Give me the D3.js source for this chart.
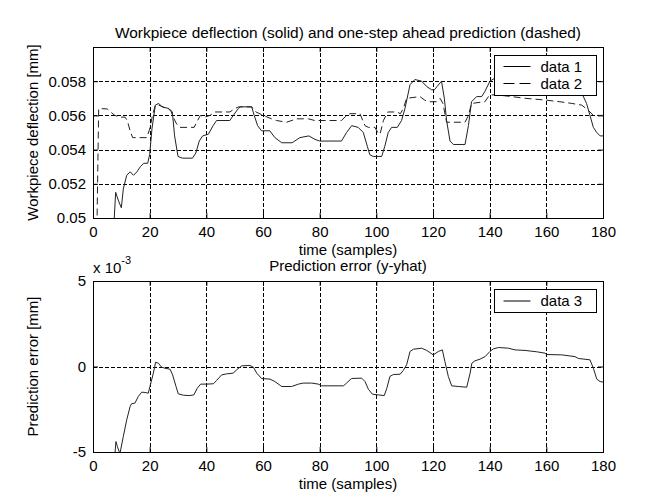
<!DOCTYPE html>
<html>
<head>
<meta charset="utf-8">
<script src="https://cdn.jsdelivr.net/npm/d3@7"></script>
<style>
  body { margin: 0; background: #fff; }
  svg { display: block; font-family: "Liberation Sans", Arial, sans-serif; }
</style>
</head>
<body>
<div id="chart"></div>
<script>
// Sample index (x) and values.
const actualT = [7, 8, 9, 10, 10.7, 11.9, 13.1, 14.3, 15.5, 16.7, 17.9, 19.3, 20, 20.8, 22, 23.2, 24.4, 26.8, 28, 28.8,
  30, 31.5, 35.1, 36.3, 37.5, 38.7, 40.7, 42.4, 43.6, 48.3, 49.5, 51.3, 52, 56, 56.9, 58.1, 59.5, 62.4, 64.2, 66.6,
  70.3, 73, 76.2, 78.3, 80, 87.7, 89.5, 91.3, 93.6, 95.4, 96.8, 97.7, 98.9, 101.9, 103, 104.2, 105.4, 107.4, 108.9, 110.1,
  111.9, 113.6, 116, 117.7, 119.5, 120.5, 121.5, 123, 124, 124.8, 126, 127.2, 131.3, 132.5, 133.6, 135.4, 137.2, 138.3, 140.1, 142,
  150, 160, 170, 172.5, 174.2, 175.4, 176.6, 177.8, 179, 180];
const actualY = [0.0485, 0.0515, 0.0510, 0.0506, 0.0517, 0.0525, 0.0527, 0.0525, 0.0527, 0.0530, 0.0532, 0.0532, 0.0537, 0.0552, 0.0566, 0.0567, 0.0565, 0.0564, 0.0562, 0.0548,
  0.0536, 0.0535, 0.0535, 0.0538, 0.0545, 0.0548, 0.0549, 0.0554, 0.0557, 0.0557, 0.0560, 0.0564, 0.0565, 0.0565, 0.0560, 0.0554, 0.0551, 0.0551, 0.0547, 0.0544,
  0.0544, 0.0547, 0.0548, 0.0546, 0.0545, 0.0545, 0.0550, 0.0554, 0.0553, 0.0550, 0.0542, 0.0537, 0.0536, 0.0536, 0.0542, 0.0550, 0.0553, 0.0553, 0.0557, 0.0564,
  0.0578, 0.0581, 0.0580, 0.0577, 0.0575, 0.0575, 0.0577, 0.0580, 0.0570, 0.0557, 0.0545, 0.0543, 0.0543, 0.0554, 0.0568, 0.0571, 0.0571, 0.0574, 0.0580, 0.0582,
  0.0580, 0.0577, 0.0575, 0.0573, 0.0567, 0.0560, 0.0553, 0.0550, 0.0548, 0.0548];

const predT = [1, 2, 5, 6.2, 7.7, 9.5, 11.3, 12.1, 13.1, 14, 19, 20, 21, 22, 23.2, 26, 27.4, 28.3, 29.5, 30.7,
  35.7, 36.9, 37.9, 39.5, 41.3, 43, 48.3, 50, 51.5, 56, 57.5, 60.1, 63, 64.8, 68.3, 71.9, 76, 78.3, 82.5, 87.7,
  89.5, 90.7, 94.2, 96, 97.2, 99.5, 100.5, 101.3, 102.5, 104, 107.2, 108.5, 109.5, 110.7, 115.4, 117, 118.3, 121.2, 122.5, 123.5,
  124.8, 131.3, 132.5, 133.6, 138.3, 140, 142.5, 147.8, 152.5, 159.5, 164.8, 169, 172.5, 174.8, 176.6, 180];
const predY = [0.045, 0.0564, 0.05638, 0.0562, 0.0560, 0.0559, 0.0559, 0.0557, 0.0551, 0.0547, 0.0547, 0.0552, 0.0560, 0.0566, 0.0566, 0.0564, 0.0563, 0.0559, 0.0555, 0.0553,
  0.0553, 0.0557, 0.0560, 0.0559, 0.0560, 0.0562, 0.0562, 0.0564, 0.0565, 0.0565, 0.0562, 0.0560, 0.0558, 0.0557, 0.0556, 0.0558, 0.0558, 0.0557, 0.0557, 0.0557,
  0.0560, 0.0561, 0.0561, 0.0554, 0.0553, 0.0553, 0.0550, 0.0549, 0.0557, 0.0562, 0.0562, 0.0561, 0.0564, 0.0570, 0.0571, 0.0569, 0.0568, 0.0568, 0.0570, 0.0567,
  0.0556, 0.0556, 0.0560, 0.0567, 0.0568, 0.0572, 0.0572, 0.0571, 0.0570, 0.0569, 0.0568, 0.0567, 0.0566, 0.0563, 0.0560, 0.0560];

// Prediction error, in units of 1e-3 mm.
const errT = [7.5, 8.1, 8.6, 9.5, 10.7, 11.9, 13.1, 13.6, 14.8, 16, 17.2, 18.4, 19.5, 20.1, 21.3, 22.1, 23.1, 24.2, 25.4, 27.2,
  28.1, 29.3, 30.1, 31.9, 34.2, 35.6, 36.8, 38, 40.1, 42.5, 43.6, 45.4, 47.2, 49.5, 50.7, 52.5, 55.4, 56.6, 57.8, 59.5,
  62.5, 64.2, 66.6, 70.1, 72.5, 74.2, 77.2, 79.5, 80.7, 88.4, 89.5, 90.7, 91.3, 94.8, 96, 97.2, 98.6, 100.7, 102.8, 103.7,
  104.8, 106, 108.4, 109.5, 110.7, 111.9, 113.1, 116, 117.8, 120.1, 121.9, 123.3, 124.2, 125.4, 126.6, 128.9, 131.9, 133.1, 133.7, 134.8,
  136.6, 138.4, 140.1, 141.3, 143.1, 146.6, 149, 152.5, 156.6, 159.5, 160.1, 165.4, 170.1, 171.3, 175.4, 176.6, 177.8, 179, 180];
const errY = [-5.6, -4.39, -4.68, -5.1, -4.09, -3.12, -2.34, -2.18, -2.14, -1.75, -1.50, -1.52, -1.56, -1.17, -0.39, 0.25, 0.19, -0.04, -0.10, -0.16,
  -0.49, -1.17, -1.6, -1.68, -1.70, -1.66, -1.27, -1.03, -1.03, -1.01, -0.82, -0.49, -0.43, -0.39, -0.19, 0.04, 0.06, -0.04, -0.39, -0.70,
  -0.74, -0.88, -1.17, -1.17, -1.03, -0.97, -0.97, -1.03, -1.13, -1.13, -0.97, -0.78, -0.70, -0.68, -0.88, -1.33, -1.62, -1.66, -1.70, -1.27,
  -0.58, -0.47, -0.45, -0.23, 0.1, 0.88, 1.01, 1.07, 0.94, 0.68, 0.88, 0.97, 0.29, -0.58, -1.13, -1.17, -1.21, -0.39, 0.19, 0.33,
  0.43, 0.58, 0.88, 1.03, 1.11, 1.07, 0.97, 0.94, 0.86, 0.78, 0.70, 0.68, 0.58, 0.47, 0.39, -0.10, -0.74, -0.88, -0.91];

const xTicks = [0, 20, 40, 60, 80, 100, 120, 140, 160, 180];
const topYTicks = [0.05, 0.052, 0.054, 0.056, 0.058];
const botYTicks = [-5, 0, 5];

const width = 651, height = 497;
const marginLeft = 93, marginRight = 48;

const svg = d3.select("#chart").append("svg")
  .attr("width", width)
  .attr("height", height);

const x = d3.scaleLinear().domain([0, 180]).range([marginLeft, width - marginRight]);
const yTop = d3.scaleLinear().domain([0.05, 0.06]).range([218, 47]);
const yBot = d3.scaleLinear().domain([-5, 5]).range([452, 281]);

// Draws one axes box: grid, ticks and tick labels.
function drawPanel(y, yTicks, yFmt, id) {
  const [y0, y1] = y.range();
  const g = svg.append("g");

  g.append("clipPath").attr("id", id)
    .append("rect").attr("x", x(0)).attr("y", y1).attr("width", x(180) - x(0)).attr("height", y0 - y1);

  // grid
  const grid = g.append("g").attr("stroke", "#000").attr("stroke-width", 1).attr("stroke-dasharray", "4,2");
  grid.selectAll(".vx").data(xTicks.slice(1, -1)).join("line")
    .attr("x1", d => Math.round(x(d)) + 0.5).attr("x2", d => Math.round(x(d)) + 0.5)
    .attr("y1", y1).attr("y2", y0);
  grid.selectAll(".hy").data(yTicks.filter(d => d > y.domain()[0] && d < y.domain()[1])).join("line")
    .attr("y1", d => Math.round(y(d)) + 0.5).attr("y2", d => Math.round(y(d)) + 0.5)
    .attr("x1", x(0)).attr("x2", x(180));

  // axes with inward ticks
  g.append("g").attr("transform", `translate(0,${y0})`)
    .call(d3.axisBottom(x).tickValues(xTicks).tickSize(-5).tickPadding(8).tickSizeOuter(0))
    .call(a => a.select(".domain").remove())
    .call(a => a.selectAll("text").attr("font-size", 15).attr("fill", "#000").attr("font-family", null));
  g.append("g").attr("transform", `translate(0,${y1})`)
    .call(d3.axisTop(x).tickValues(xTicks).tickSize(-5).tickFormat("").tickSizeOuter(0))
    .call(a => a.select(".domain").remove());
  g.append("g").attr("transform", `translate(${x(0)},0)`)
    .call(d3.axisLeft(y).tickValues(yTicks).tickSize(-5).tickPadding(7).tickFormat(yFmt).tickSizeOuter(0))
    .call(a => a.select(".domain").remove())
    .call(a => a.selectAll("text").attr("font-size", 15).attr("fill", "#000").attr("font-family", null));
  g.append("g").attr("transform", `translate(${x(180)},0)`)
    .call(d3.axisRight(y).tickValues(yTicks).tickSize(-5).tickFormat("").tickSizeOuter(0))
    .call(a => a.select(".domain").remove());

  return g;
}

function frame(g, y) {
  const [y0, y1] = y.range();
  g.append("rect")
    .attr("x", x(0) + 0.5).attr("y", y1 + 0.5)
    .attr("width", x(180) - x(0)).attr("height", y0 - y1)
    .attr("fill", "none").attr("stroke", "#000");
}

const line = (xs, ys, y) => d3.line().x((d, i) => x(xs[i])).y(d => y(d))(ys);

// Top panel
const topPanel = drawPanel(yTop, topYTicks, d => d === 0.05 ? "0.05" : d3.format(".3f")(d), "clipTop");
const topLines = topPanel.append("g").attr("clip-path", "url(#clipTop)").attr("fill", "none");
topLines.append("path").attr("d", line(actualT, actualY, yTop))
  .attr("stroke", "#222").attr("stroke-width", 1);
topLines.append("path").attr("d", line(predT, predY, yTop))
  .attr("stroke", "#222").attr("stroke-width", 1).attr("stroke-dasharray", "7,4");

// Bottom panel
const botPanel = drawPanel(yBot, botYTicks, d => d, "clipBot");
botPanel.append("g").attr("clip-path", "url(#clipBot)").append("path")
  .attr("d", line(errT, errY, yBot))
  .attr("fill", "none").attr("stroke", "#222").attr("stroke-width", 1);

// Legends
function legend(g, y, items) {
  const lg = g.append("g").attr("transform", `translate(494.5,${y + 0.5})`);
  const h = items.length === 2 ? 40 : 23;
  lg.append("rect").attr("width", 102).attr("height", h).attr("fill", "#fff").attr("stroke", "#000");
  items.forEach((it, i) => {
    const cy = (items.length === 2 ? 11 : 11.5) + i * 17;
    lg.append("line").attr("x1", 9).attr("x2", 36).attr("y1", cy).attr("y2", cy)
      .attr("stroke", "#000").attr("stroke-dasharray", it.dash);
    lg.append("text").attr("x", 46).attr("y", cy + 5).attr("font-size", 15).text(it.label);
  });
}
legend(topPanel, 55, [{ label: "data 1", dash: null }, { label: "data 2", dash: "11,5" }]);
legend(botPanel, 289, [{ label: "data 3", dash: null }]);

frame(topPanel, yTop);
frame(botPanel, yBot);

// Titles and labels
const cx = (x(0) + x(180)) / 2;
svg.append("text").attr("x", cx).attr("y", 38).attr("text-anchor", "middle").attr("font-size", 15.4)
  .text("Workpiece deflection (solid) and one-step ahead prediction (dashed)");
svg.append("text").attr("x", cx).attr("y", 255).attr("text-anchor", "middle").attr("font-size", 15)
  .text("time (samples)");
svg.append("text").attr("x", cx).attr("y", 271).attr("text-anchor", "middle").attr("font-size", 15)
  .text("Prediction error (y-yhat)");
svg.append("text").attr("x", cx).attr("y", 489).attr("text-anchor", "middle").attr("font-size", 15)
  .text("time (samples)");
svg.append("text").attr("transform", `translate(38,${(yTop.range()[0] + yTop.range()[1]) / 2}) rotate(-90)`)
  .attr("text-anchor", "middle").attr("font-size", 15).text("Workpiece deflection [mm]");
svg.append("text").attr("transform", `translate(38,${(yBot.range()[0] + yBot.range()[1]) / 2}) rotate(-90)`)
  .attr("text-anchor", "middle").attr("font-size", 15).text("Prediction error [mm]");
const exp = svg.append("text").attr("x", 93).attr("y", 273).attr("font-size", 15);
exp.append("tspan").text("x 10");
exp.append("tspan").attr("dy", -9).attr("font-size", 11).text("-3");
</script>
</body>
</html>
